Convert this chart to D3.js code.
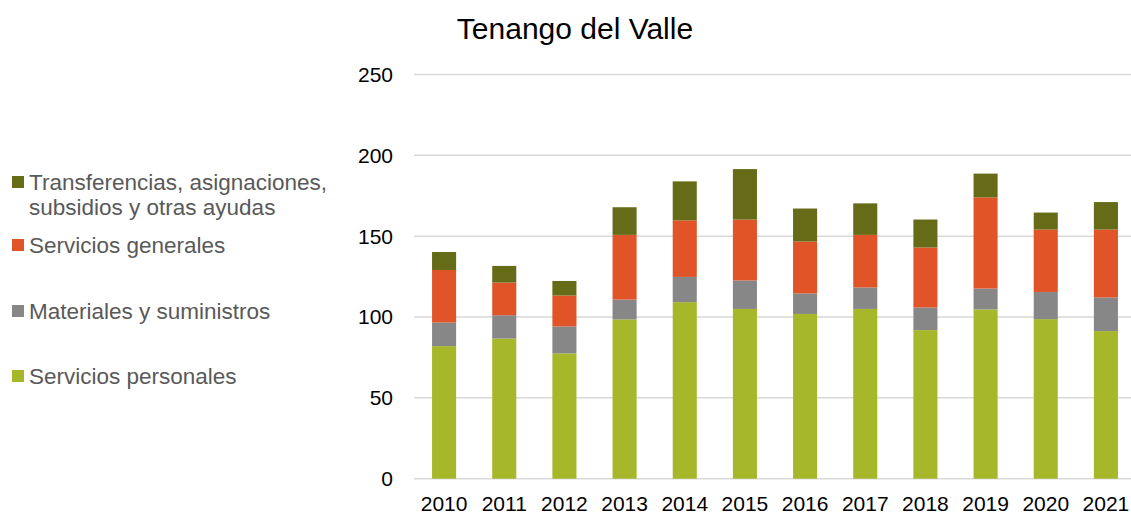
<!DOCTYPE html>
<html>
<head>
<meta charset="utf-8">
<script src="https://cdn.jsdelivr.net/npm/d3@7"></script>
<style>
  body { margin: 0; background: #fff; }
  svg { font-family: "Liberation Sans", Arial, sans-serif; }
</style>
</head>
<body>
<svg id="chart" width="1131" height="514"></svg>
<script>
const years = ["2010", "2011", "2012", "2013", "2014", "2015", "2016", "2017", "2018", "2019", "2020", "2021"];
const serviciosPersonales = [82.0, 86.7, 77.5, 98.5, 109.2, 105.0, 101.9, 105.0, 91.9, 104.7, 98.7, 91.3];
const materiales = [14.6, 14.4, 16.7, 12.3, 15.6, 17.6, 12.7, 13.3, 14.0, 12.9, 16.8, 20.8];
const serviciosGenerales = [32.5, 20.2, 19.1, 40.0, 35.0, 37.7, 32.1, 32.5, 37.1, 56.4, 38.6, 42.0];
const transferencias = [11.1, 10.3, 9.0, 17.1, 24.1, 31.2, 20.4, 19.5, 17.3, 14.7, 10.5, 17.0];
const yTicks = [0, 50, 100, 150, 200, 250];

const seriesInfo = [
  { key: "sp", name: "Servicios personales", color: "#a6b729", values: serviciosPersonales },
  { key: "mat", name: "Materiales y suministros", color: "#878787", values: materiales },
  { key: "sg", name: "Servicios generales", color: "#e05427", values: serviciosGenerales },
  { key: "tr", name: "Transferencias, asignaciones, subsidios y otras ayudas", color: "#656b17", values: transferencias }
];

const table = years.map((yr, i) => {
  const row = { year: yr };
  seriesInfo.forEach(s => { row[s.key] = s.values[i]; });
  return row;
});

const svg = d3.select("#chart");
const margin = { left: 414, right: -5, top: 74.5, bottom: 35.3 };
const width = 1131 - margin.left - margin.right;
const height = 514 - margin.top - margin.bottom;

const x = d3.scaleBand().domain(years).range([0, width]).paddingInner(0.6).paddingOuter(0.3);
const y = d3.scaleLinear().domain([0, 250]).range([height, 0]);

const g = svg.append("g").attr("transform", "translate(" + margin.left + "," + margin.top + ")");

// gridlines
g.selectAll(".grid").data(yTicks).enter().append("line")
  .attr("x1", 0).attr("x2", width)
  .attr("y1", d => y(d)).attr("y2", d => y(d))
  .attr("stroke", "#d9d9d9").attr("stroke-width", 1.5);

// y labels
g.selectAll(".ylab").data(yTicks).enter().append("text")
  .attr("x", -21).attr("y", d => y(d))
  .attr("dy", "0.35em").attr("text-anchor", "end")
  .attr("font-size", 21).attr("fill", "#000")
  .text(d => d);

// x labels
g.selectAll(".xlab").data(years).enter().append("text")
  .attr("x", d => x(d) + x.bandwidth() / 2).attr("y", height + 24.5)
  .attr("dy", "0.35em").attr("text-anchor", "middle")
  .attr("font-size", 21).attr("fill", "#000")
  .text(d => d);

const stack = d3.stack().keys(seriesInfo.map(s => s.key));
const stacked = stack(table);

g.selectAll(".layer").data(stacked).enter().append("g")
  .attr("fill", (d, i) => seriesInfo[i].color)
  .selectAll("rect").data(d => d).enter().append("rect")
    .attr("x", d => x(d.data.year))
    .attr("width", x.bandwidth())
    .attr("y", d => y(d[1]))
    .attr("height", d => y(d[0]) - y(d[1]));

// title
svg.append("text")
  .attr("x", 575).attr("y", 28).attr("dy", "0.35em")
  .attr("text-anchor", "middle").attr("font-size", 30).attr("fill", "#000")
  .text("Tenango del Valle");

// legend
const legendItems = [
  { s: seriesInfo[3], lines: ["Transferencias, asignaciones,", "subsidios y otras ayudas"], y: 182 },
  { s: seriesInfo[2], lines: ["Servicios generales"], y: 245 },
  { s: seriesInfo[1], lines: ["Materiales y suministros"], y: 311 },
  { s: seriesInfo[0], lines: ["Servicios personales"], y: 376 }
];
const leg = svg.append("g");
legendItems.forEach(it => {
  leg.append("rect").attr("x", 12).attr("y", it.y - 6).attr("width", 12).attr("height", 12)
    .attr("fill", it.s.color);
  it.lines.forEach((ln, j) => {
    leg.append("text").attr("x", 29).attr("y", it.y + j * 25).attr("dy", "0.35em")
      .attr("font-size", 22.5).attr("fill", "#595959").text(ln);
  });
});
</script>
</body>
</html>
